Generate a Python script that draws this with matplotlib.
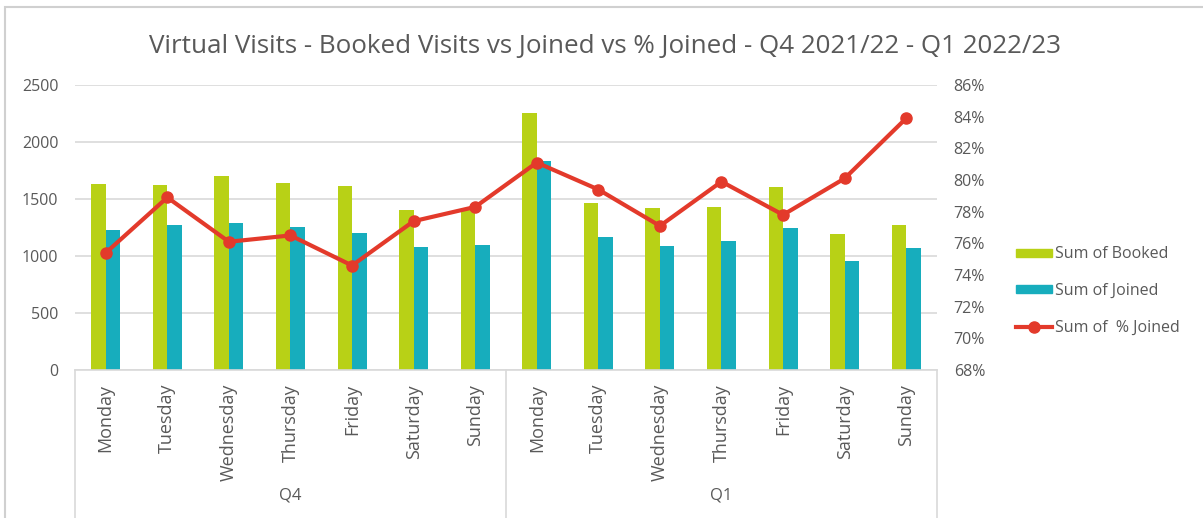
import numpy as np
import matplotlib.pyplot as plt
from matplotlib.patches import Rectangle
from matplotlib.lines import Line2D
from matplotlib.ticker import FuncFormatter

plt.rcParams['font.family'] = ['Open Sans', 'DejaVu Sans']

# data
days = ['Monday', 'Tuesday', 'Wednesday', 'Thursday', 'Friday', 'Saturday', 'Sunday']
quarters = ['Q4', 'Q1']
booked_q4 = [1630, 1620, 1700, 1638, 1612, 1400, 1405]
booked_q1 = [2258, 1468, 1418, 1428, 1602, 1196, 1276]
joined_q4 = [1228, 1275, 1292, 1257, 1204, 1082, 1099]
joined_q1 = [1833, 1170, 1091, 1134, 1248, 956, 1070]
pct_q4 = [75.4, 78.9, 76.1, 76.5, 74.6, 77.4, 78.3]
pct_q1 = [81.1, 79.4, 77.1, 79.9, 77.8, 80.1, 83.9]

booked = booked_q4 + booked_q1
joined = joined_q4 + joined_q1
pct = pct_q4 + pct_q1
labels = days + days

green = '#b8d116'
teal = '#17adbd'
red = '#e33a2b'
txt = '#595959'
grid = '#d9d9d9'

fig = plt.figure(figsize=(12.03, 5.18), dpi=100)
ax = fig.add_axes([0.0623, 0.2857, 0.7166, 0.5502])
ax2 = ax.twinx()

x = np.arange(len(labels))
w = 0.235
ax.bar(x - w / 2, booked, w, color=green, zorder=2)
ax.bar(x + w / 2, joined, w, color=teal, zorder=2)
ax2.plot(x, pct, color=red, lw=3, marker='o', ms=8, zorder=3)

ax.set_xlim(-0.5, len(labels) - 0.5)
ax.set_ylim(0, 2500)
ax.set_yticks(range(0, 2501, 500))
ax.yaxis.grid(True, color=grid, lw=1.2, zorder=0)
ax.set_axisbelow(True)
ax2.set_ylim(68, 86)
ax2.set_yticks(range(68, 87, 2))
ax2.yaxis.set_major_formatter(FuncFormatter(lambda v, p: '%d%%' % v))

for a in (ax, ax2):
    for s in a.spines.values():
        s.set_visible(False)
    a.tick_params(axis='y', length=0, labelsize=11.5, colors=txt, pad=12)
ax.spines['bottom'].set_visible(True)
ax.spines['bottom'].set_color(grid)
ax.spines['bottom'].set_linewidth(1.2)

ax.set_xticks(x)
ax.set_xticklabels(labels, rotation=90, va='top', fontsize=13, color=txt)
ax.tick_params(axis='x', length=0, pad=10)

# multi-level category axis
for xv in [-0.5, 6.5, 13.5]:
    ax.plot([xv, xv], [0, -0.53], transform=ax.get_xaxis_transform(),
            color=grid, lw=1.2, clip_on=False)
for i, q in enumerate(quarters):
    ax.text(3 + 7 * i, -0.44, q, transform=ax.get_xaxis_transform(),
            ha='center', va='center', fontsize=12, color=txt)

fig.suptitle('Virtual Visits - Booked Visits vs Joined vs % Joined - Q4 2021/22 - Q1 2022/23',
             x=0.503, y=0.935, fontsize=18.7, color=txt)

handles = [Rectangle((0, 0), 1, 1, color=green),
           Rectangle((0, 0), 1, 1, color=teal),
           Line2D([], [], color=red, lw=3, marker='o', ms=8)]
fig.legend(handles, ['Sum of Booked', 'Sum of Joined', 'Sum of  % Joined'],
           loc='center left', bbox_to_anchor=(0.833, 0.438), frameon=False,
           fontsize=11.5, labelcolor=txt, handlelength=2.2, handleheight=0.4,
           handletextpad=0.2, labelspacing=1.3)

fig.patches.append(Rectangle((0.004, -0.1), 1.1, 1.086, transform=fig.transFigure,
                             fill=False, ec='#d0d0d0', lw=1.5))

fig.savefig('out.png', dpi=100)
